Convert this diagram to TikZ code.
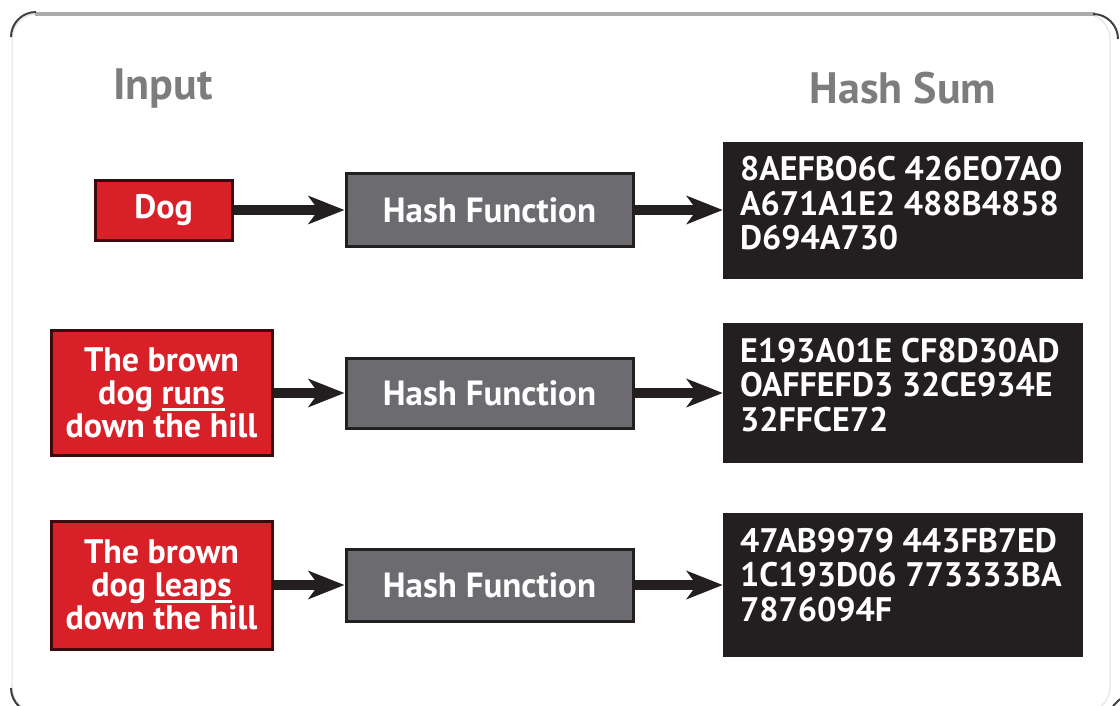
\documentclass[tikz,border=0pt]{standalone}
\usepackage{fontspec}
\setmainfont{PT Sans}
\usepackage{tikz}
\usetikzlibrary{arrows.meta,positioning}

\definecolor{boxred}{RGB}{215,32,40}
\definecolor{redline}{RGB}{60,10,12}
\definecolor{hashgray}{RGB}{108,108,112}
\definecolor{inkblack}{RGB}{35,31,32}
\definecolor{headgray}{RGB}{125,125,128}

% hash sum text, top left in its box
\newcommand{\sumtext}[2]{\parbox[c][#1][t]{326pt}{\vspace*{15pt}\raggedright #2}}
% underline close to the baseline
\newcommand{\lowline}[1]{\setbox0\hbox{#1}\rlap{\rule[-6pt]{\wd0}{2.5pt}}\box0}

\begin{document}
\begin{tikzpicture}[x=1pt,y=-1pt,font=\bfseries]
    \tikzstyle{inbox}=[draw=redline,fill=boxred,line width=3pt,text=white,align=center,
        font=\fontsize{34}{33}\selectfont\bfseries,inner sep=0pt]
    \tikzstyle{hashbox}=[draw=inkblack,fill=hashgray,line width=3pt,text=white,
        minimum width=287,font=\fontsize{35}{36}\selectfont\bfseries,inner sep=0pt]
    \tikzstyle{sumbox}=[fill=inkblack,text=white,minimum width=360,inner xsep=17pt,inner ysep=0pt,
        font=\fontsize{34}{34.5}\selectfont\bfseries]
    \tikzstyle{head}=[text=headgray,font=\fontsize{44}{46}\selectfont\bfseries]
    \tikzstyle{arr}=[-{Stealth[length=36pt,width=28pt,inset=10pt]},line width=10pt,draw=inkblack]

    \useasboundingbox (0,0) rectangle (1120,705);

    % frame
    \draw[black!12,line width=1pt,rounded corners=25pt] (12,14) rectangle (1110,712);
    \draw[black!33,line width=4pt] (35,14) -- (1095,14);
    \draw[black!75,line width=2pt] (11,37) arc[start angle=180,end angle=270,radius=25];
    \draw[black!75,line width=2pt] (1093,14) arc[start angle=270,end angle=360,radius=25];
    \draw[black!75,line width=2pt] (11,688) arc[start angle=180,end angle=130,radius=25];
    \draw[black!75,line width=2pt] (1120,699) -- (1113,706);

    % column heads
    \node[head] (input) at (163,88) {Input};
    \node[head] (sum) at (903,88) {Hash Sum};

    % inputs
    \node[inbox,minimum width=137,minimum height=60] (in1) at (163.5,210) {Dog};
    \node[inbox,minimum width=221,minimum height=125] (in2) at (161.5,393)
        {The brown\\dog \lowline{runs}\\down the hill};
    \node[inbox,minimum width=221,minimum height=128] (in3) at (161.5,585)
        {The brown\\dog \lowline{leaps}\\down the hill};

    % hash functions
    \node[hashbox,minimum height=73] (hash1) at (489.5,210) {Hash Function};
    \node[hashbox,minimum height=70] (hash2) at (489.5,393) {Hash Function};
    \node[hashbox,minimum height=72] (hash3) at (489.5,585) {Hash Function};

    % hash sums
    \node[sumbox] (sum1) at (903,210)
        {\sumtext{137pt}{8AEFBO6C 426EO7AO\\A671A1E2 488B4858\\D694A730}};
    \node[sumbox] (sum2) at (903,393)
        {\sumtext{140pt}{E193A01E CF8D30AD\\OAFFEFD3 32CE934E\\32FFCE72}};
    \node[sumbox] (sum3) at (903,585)
        {\sumtext{144pt}{47AB9979 443FB7ED\\1C193D06 773333BA\\7876094F}};

    \foreach \i in {1,2,3} {
        \draw[arr] (in\i) -- (hash\i);
        \draw[arr] (hash\i) -- (sum\i);
    }
\end{tikzpicture}
\end{document}
